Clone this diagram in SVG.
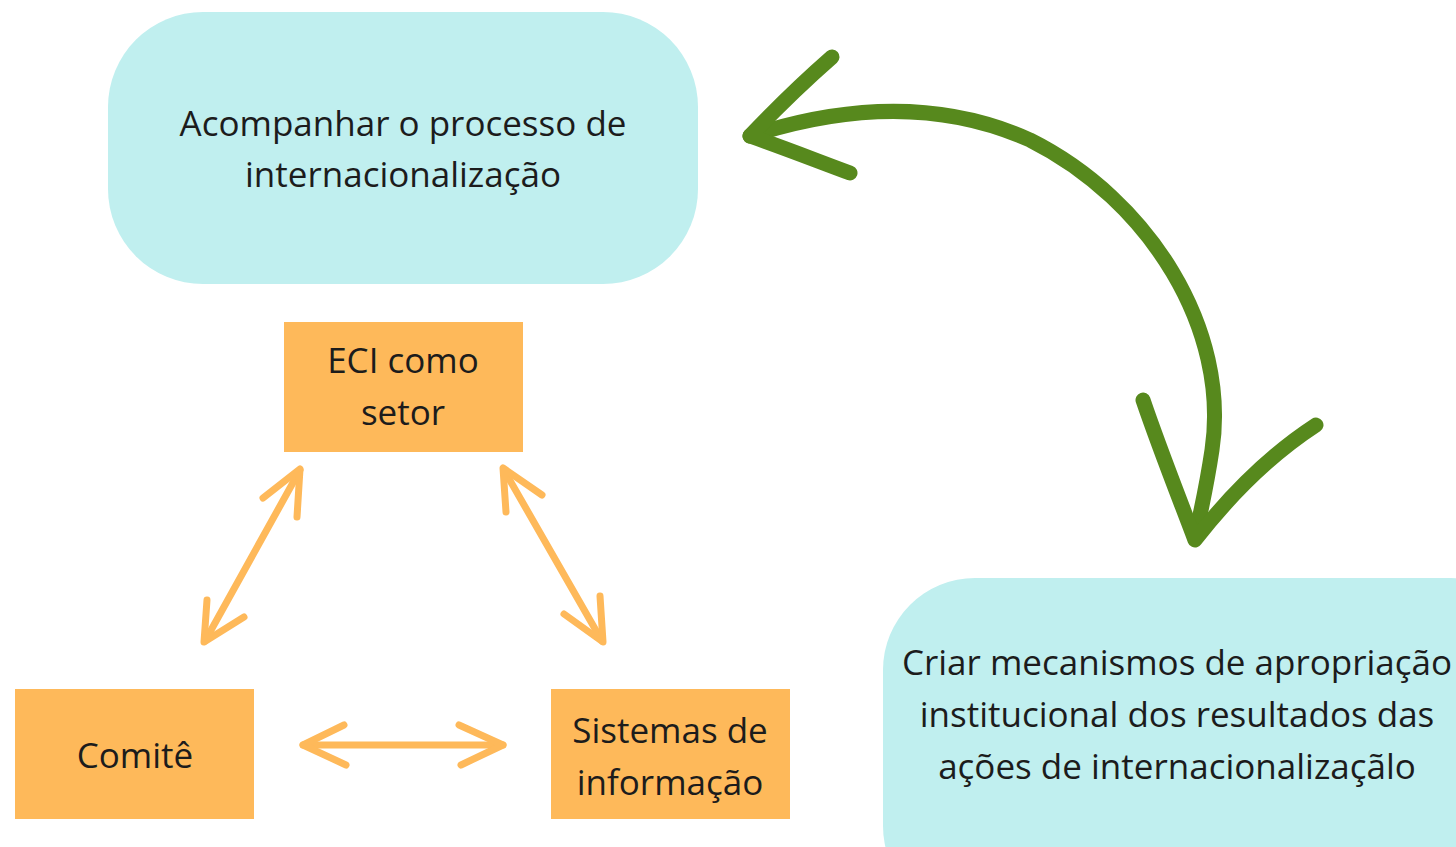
<svg xmlns="http://www.w3.org/2000/svg" width="1456" height="847" viewBox="0 0 1456 847">
<style>
.cloud{fill:#c0efef;}
.box{fill:#feb95a;}
.t{font-family:"Open Sans","Noto Sans",sans-serif;font-size:35px;fill:#1c1c1c;text-anchor:middle;}
.g{fill:none;stroke:#57891d;stroke-width:15;stroke-linecap:round;stroke-linejoin:round;}
.o{fill:none;stroke:#feb95a;stroke-width:7;stroke-linecap:round;stroke-linejoin:round;}
</style>
<rect width="1456" height="847" fill="#ffffff"/>
<g id="node-acompanhar">
<rect class="cloud" x="108" y="12" width="590" height="272" rx="95" ry="95"/>
<text class="t" x="403" y="136">Acompanhar o processo de</text>
<text class="t" x="403" y="187">internacionalização</text>
</g>
<g id="node-criar">
<rect class="cloud" x="883" y="578" width="660" height="340" rx="92" ry="92"/>
<text class="t" x="1177" y="675">Criar mecanismos de apropriação</text>
<text class="t" x="1177" y="727">institucional dos resultados das</text>
<text class="t" x="1177" y="779">ações de internacionalizaçãlo</text>
</g>
<g id="node-eci">
<rect class="box" x="284" y="322" width="239" height="130"/>
<text class="t" x="403" y="373">ECI como</text>
<text class="t" x="403" y="425">setor</text>
</g>
<g id="node-comite">
<rect class="box" x="15" y="689" width="239" height="130"/>
<text class="t" x="135" y="768">Comitê</text>
</g>
<g id="node-sistemas">
<rect class="box" x="551" y="689" width="239" height="130"/>
<text class="t" x="670" y="743">Sistemas de</text>
<text class="t" x="670" y="795">informação</text>
</g>
<g id="connectors">
<path class="g" d="M750 136 C830 110 930 95 1030 140 C1150 200 1230 330 1212 450 C1206 490 1200 515 1195 538"/>
<path class="g" d="M832 57 C800 85 770 115 750 136 C790 150 820 162 850 173"/>
<path class="g" d="M1143 400 C1160 450 1180 500 1195 540 C1230 495 1270 455 1316 425"/>
<path class="o" d="M300 470 L205 641"/>
<path class="o" d="M263 498 L300 469 L297 517"/>
<path class="o" d="M207 600 L204 642 L244 617"/>
<path class="o" d="M504 470 L602 641"/>
<path class="o" d="M542 495 L503 468 L506 512"/>
<path class="o" d="M600 596 L603 642 L564 614"/>
<path class="o" d="M303 745 L503 745"/>
<path class="o" d="M344 725 L303 745 L346 765"/>
<path class="o" d="M459 725 L503 745 L461 765"/>
</g>
</svg>
